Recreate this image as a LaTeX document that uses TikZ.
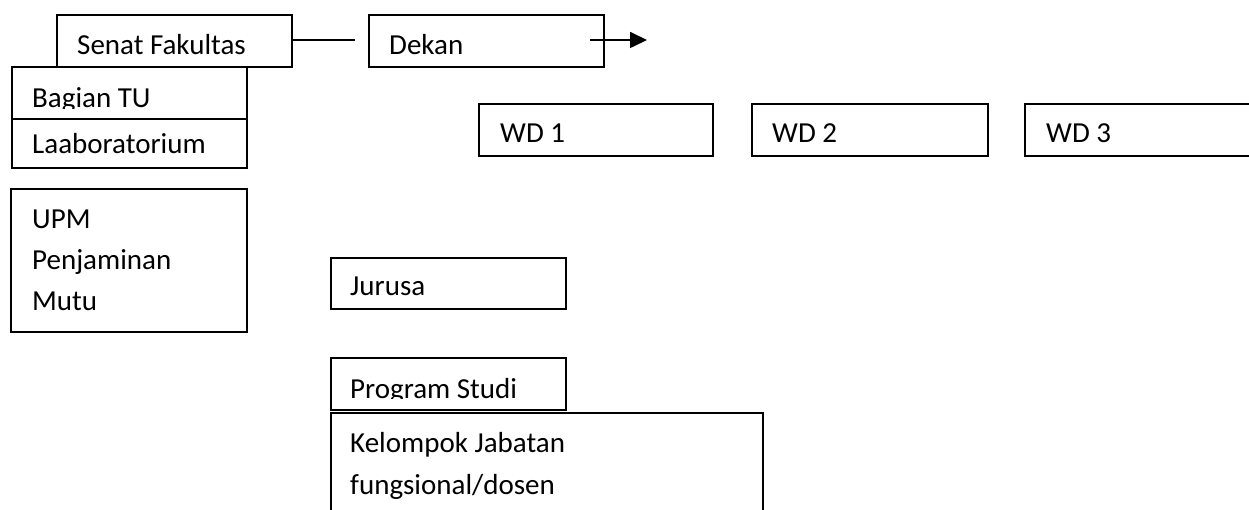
\documentclass[tikz,border=0pt]{standalone}
\usepackage{fontspec}
\setmainfont{Carlito}
\usetikzlibrary{arrows.meta}
\tikzset{
  box/.style={draw=black, line width=1.7pt, rectangle, inner sep=0pt, anchor=north west},
  lbl/.style={anchor=base west, inner sep=0pt, font=\fontsize{29}{41}\selectfont},
  conn/.style={draw=black, line width=1.7pt},
}
\begin{document}
\begin{tikzpicture}[x=1pt,y=-1pt]
\useasboundingbox (0,0) rectangle (1249,510);
\clip (0,0) rectangle (1249,510);
% boxes
\node[box, minimum width=235pt, minimum height=52pt] (senat) at (56,14) {};
\node[box, minimum width=235pt, minimum height=52pt] (dekan) at (368,14) {};
\node[box, minimum width=235pt, minimum height=52pt] (tu) at (11,66) {};
\node[box, minimum width=235pt, minimum height=49pt] (lab) at (11,118) {};
\node[box, minimum width=236pt, minimum height=143pt] (upm) at (10,188) {};
\node[box, minimum width=234pt, minimum height=52pt] (wd1) at (478,103) {};
\node[box, minimum width=236pt, minimum height=52pt] (wd2) at (751,103) {};
\node[box, minimum width=250pt, minimum height=52pt] (wd3) at (1024,103) {};
\node[box, minimum width=235pt, minimum height=51pt] (jur) at (330,257) {};
\node[box, minimum width=235pt, minimum height=52pt] (prodi) at (330,357) {};
\node[box, minimum width=432pt, minimum height=120pt] (kjf) at (330,412) {};
% labels
\node[lbl] (tsenat) at (77,55) {Senat Fakultas};
\node[lbl] (tdekan) at (389,55) {Dekan};
\begin{scope}
\clip (0,66) rectangle (300,108.5);
\node[lbl] (ttu) at (32,107.5) {Bagian TU};
\end{scope}
\node[lbl] (tlab) at (32,154) {Laaboratorium};
\node[lbl] (tupma) at (32,229) {UPM};
\node[lbl] (tupmb) at (32,270) {Penjaminan};
\node[lbl] (tupmc) at (32,311) {Mutu};
\node[lbl] (twd1) at (500,143) {WD 1};
\node[lbl] (twd2) at (772,143) {WD 2};
\node[lbl] (twd3) at (1046,143) {WD 3};
\node[lbl] (tjur) at (350,296) {Jurusa};
\begin{scope}
\clip (320,357) rectangle (600,398.5);
\node[lbl] (tprodi) at (350,398) {Program Studi};
\end{scope}
\node[lbl] (tkjfa) at (350,452) {Kelompok Jabatan};
\node[lbl] (tkjfb) at (350,494) {fungsional/dosen};
% connectors
\coordinate (senatend) at (355,40);
\draw[conn] (senat.east |- senatend) -- (senatend);
\coordinate (arrstart) at (590,40);
\coordinate (arrend) at (647,40);
\draw[conn, -{Triangle[length=17pt,width=16pt]}] (arrstart) -- (arrend);
\end{tikzpicture}
\end{document}
